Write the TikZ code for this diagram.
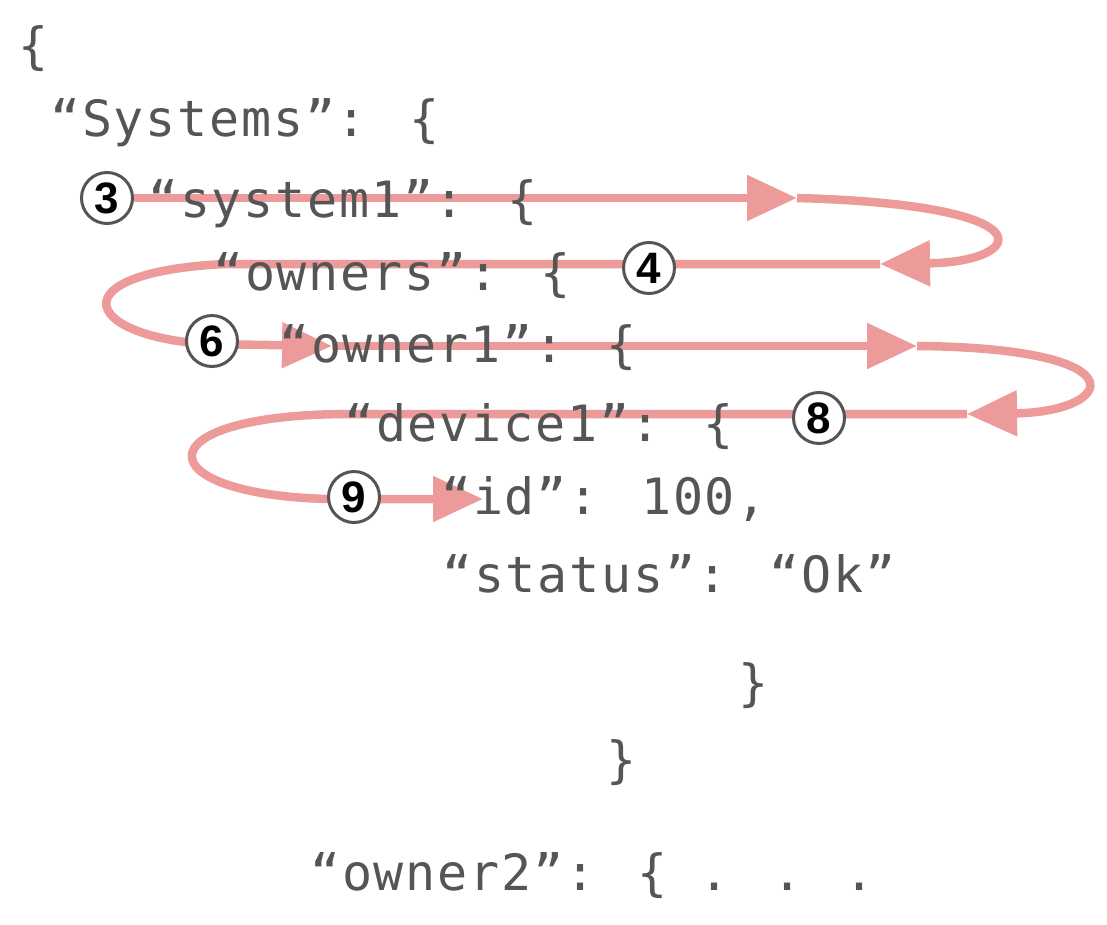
\documentclass[tikz,border=0pt]{standalone}
\usepackage{fontspec}
\usepackage{tikz}
\usetikzlibrary{arrows.meta, positioning}
\newfontfamily\codefont[LetterSpace=3.5]{DejaVu Sans Mono}
\newfontfamily\numfont{Liberation Sans}
\definecolor{flow}{HTML}{EC9A9A}
\definecolor{code}{HTML}{555555}
\pgfdeclarelayer{bg}
\pgfsetlayers{bg,main}

\begin{document}
\begin{tikzpicture}[x=1pt, y=-1pt,
    line/.style={anchor=base west, inner sep=0pt, text=code, font=\codefont\fontsize{50}{60}\selectfont},
    num/.style={circle, draw=code, line width=3pt, fill=white, minimum size=51pt, inner sep=0pt, font=\numfont\bfseries\fontsize{44}{44}\selectfont},
    arr/.style={-{Triangle[length=50pt, width=44pt]}, line width=8.5pt, flow}
]
\useasboundingbox (0,0) rectangle (1107,924);

\node[line] (open) at (18,63) {\{};
\node[line] (systems) at (50,136) {“Systems”: \{};
\node[line] (system1) at (148,217) {“system1”: \{};
\node[line] (owners) at (213,290) {“owners”: \{};
\node[line] (owner1) at (279,362) {“owner1”: \{};
\node[line] (device1) at (344,441) {“device1”: \{};
\node[line] (id) at (441,514) {“id”: 100,};
\node[line] (status) at (442,592) {“status”: “Ok”};
\node[line] (close1) at (738,700) {\}};
\node[line] (close2) at (606,777) {\}};
\node[line] (owner2) at (310,890) {“owner2”: \{ . . .};

\node[num] (n3) at (107,198) {3};
\node[num] (n4) at (649,268) {4};
\node[num] (n6) at (212,341) {6};
\node[num] (n8) at (819,418) {8};
\node[num] (n9) at (354,497) {9};

\coordinate (t1) at (797,198);
\coordinate (t2) at (880,264);
\coordinate (t3) at (332,346);
\coordinate (t4) at (917,346);
\coordinate (t5) at (967,414);
\coordinate (t6) at (483,499);

\begin{pgfonlayer}{bg}
\draw[arr] (n3) -- (t1);
\draw[arr] (t1) .. controls (1055,205) and (1025,262) .. (t2);
\draw[arr] (t2) -- (225,264) .. controls (60,272) and (80,335) .. (205,344) -- (t3);
\draw[arr] (t3) -- (t4);
\draw[arr] (t4) .. controls (1145,348) and (1115,412) .. (t5);
\draw[arr] (t5) -- (350,414) .. controls (140,414) and (145,495) .. (330,499) -- (t6);
\end{pgfonlayer}
\end{tikzpicture}
\end{document}
